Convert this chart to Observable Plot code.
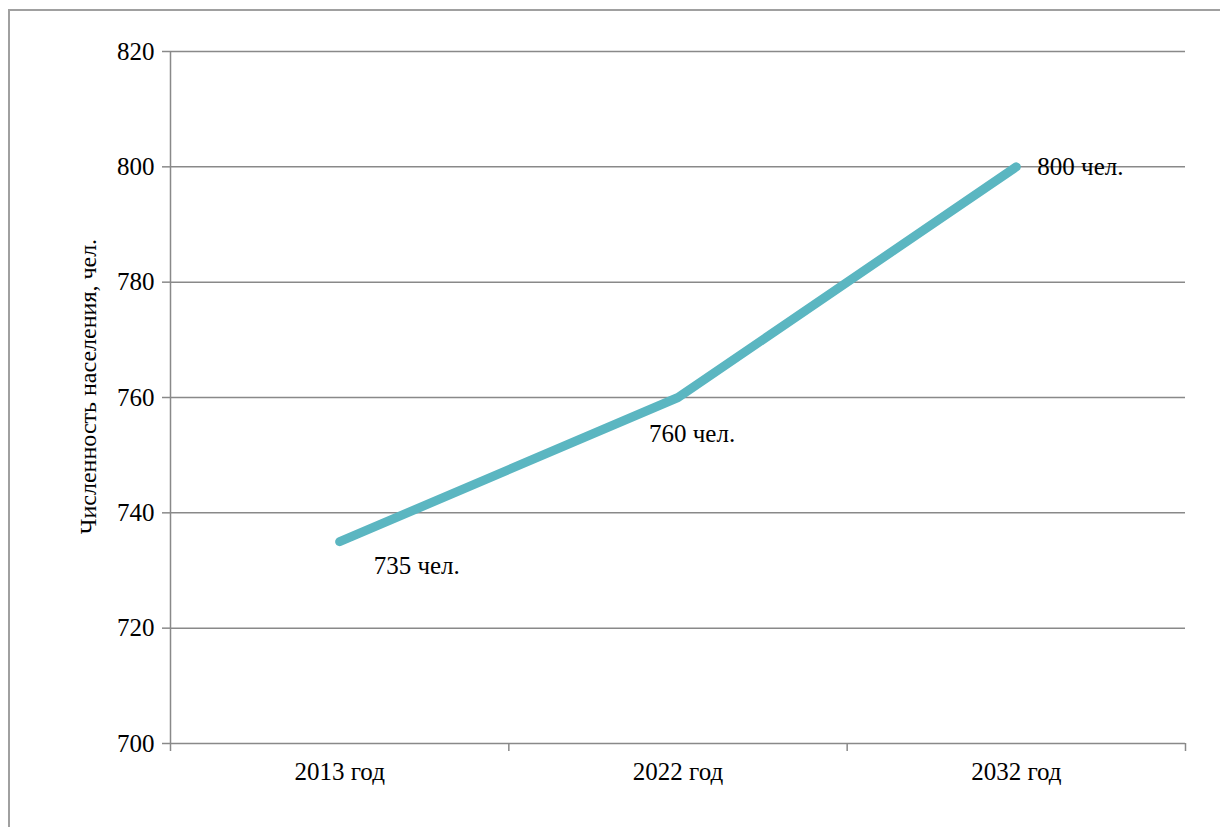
<!DOCTYPE html>
<html>
<head>
<meta charset="utf-8">
<script src="https://cdn.jsdelivr.net/npm/d3@7"></script>
<script src="https://cdn.jsdelivr.net/npm/@observablehq/plot@0.6"></script>
<style>
  html, body { margin: 0; padding: 0; background: #fff; overflow: hidden; }
  #wrap { position: relative; width: 1220px; height: 827px; }
  #frame { position: absolute; left: 8px; top: 9px; width: 1240px; height: 850px; border: 2px solid #a0a0a0; box-sizing: border-box; }
  #chart { position: absolute; left: 0; top: 0; }
</style>
</head>
<body>
<div id="wrap"><div id="frame"></div><div id="chart"></div></div>
<script>
const categories = ["2013 год", "2022 год", "2032 год"];
const population = [735, 760, 800];
const labels = ["735 чел.", "760 чел.", "800 чел."];
const yTicks = [700, 720, 740, 760, 780, 800, 820];
const yTitle = "Численность населения, чел.";

const data = categories.map((c, i) => ({cat: c, idx: i + 0.5, value: population[i], label: labels[i]}));
const font = "Liberation Serif";
const gridColor = "#898989";

const chart = Plot.plot({
  width: 1220,
  height: 827,
  marginLeft: 170,
  marginRight: 35,
  marginTop: 51,
  marginBottom: 84,
  style: {background: "transparent"},
  x: {type: "linear", domain: [0, categories.length], axis: null},
  y: {domain: [700, 820], axis: null},
  marks: [
    Plot.gridY(yTicks, {stroke: gridColor, strokeOpacity: 1, strokeWidth: 1.5}),
    Plot.ruleX([0], {stroke: gridColor, strokeWidth: 1.5}),
    Plot.axisY(yTicks, {tickSize: 8, tickPadding: 8, fontSize: 25, fontFamily: font, stroke: gridColor, strokeWidth: 1.5, fill: "#000", label: null}),
    Plot.axisX(d3.range(categories.length + 1), {tickSize: 8, tickFormat: () => "", stroke: gridColor, strokeWidth: 1.5, label: null}),
    Plot.axisX(data.map(d => d.idx), {tickSize: 0, tickPadding: 19, fontSize: 25, fontFamily: font, fill: "#000", tickFormat: (d) => categories[Math.round(d - 0.5)], label: null}),
    Plot.text([yTitle], {frameAnchor: "left", textAnchor: "middle", dx: -82, dy: -11, rotate: -90, fontSize: 24, fontFamily: font, fill: "#000"}),
    Plot.line(data, {x: "idx", y: "value", stroke: "#5BB6C1", strokeWidth: 9, strokeLinecap: "round", strokeLinejoin: "round"}),
    Plot.text(data.filter((d, i) => i === 0), {x: "idx", y: "value", text: "label", textAnchor: "start", dx: 34, dy: 24, fontSize: 25, fontFamily: font, fill: "#000"}),
    Plot.text(data.filter((d, i) => i === 1), {x: "idx", y: "value", text: "label", textAnchor: "start", dx: -29, dy: 36, fontSize: 25, fontFamily: font, fill: "#000"}),
    Plot.text(data.filter((d, i) => i === 2), {x: "idx", y: "value", text: "label", textAnchor: "start", dx: 21, dy: 0, fontSize: 25, fontFamily: font, fill: "#000"})
  ]
});
chart.style.setProperty("font-family", "'Liberation Serif', serif", "important");
chart.querySelectorAll("g, text, tspan").forEach(t => t.style.setProperty("font-family", "'Liberation Serif', serif", "important"));
document.getElementById("chart").appendChild(chart);
</script>
</body>
</html>
